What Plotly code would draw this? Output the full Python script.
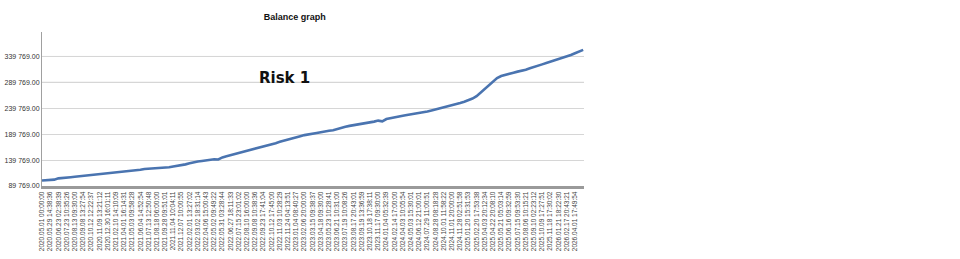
import plotly.graph_objects as go

tick_labels = [
    "2020.05.01 00:00:00", "2020.05.29 14:38:36", "2020.06.23 02:38:39", "2020.07.23 10:35:26",
    "2020.08.13 09:30:00", "2020.09.08 13:27:54", "2020.10.12 12:22:37", "2020.11.09 13:21:12",
    "2020.12.30 16:01:11", "2021.02.10 14:10:09", "2021.04.01 16:14:31", "2021.05.03 09:58:28",
    "2021.06.04 14:52:54", "2021.07.13 12:50:48", "2021.08.18 06:00:00", "2021.09.28 09:51:01",
    "2021.11.04 10:04:11", "2021.12.07 10:00:55", "2022.02.01 13:27:02", "2022.03.02 18:31:14",
    "2022.04.06 15:00:43", "2022.05.02 09:49:22", "2022.05.31 03:28:44", "2022.06.27 18:11:33",
    "2022.07.15 23:01:02", "2022.08.10 16:00:00", "2022.09.08 10:38:36", "2022.09.23 17:41:04",
    "2022.10.12 17:45:00", "2022.11.03 10:28:29", "2022.11.24 04:13:51", "2023.01.04 08:40:27",
    "2023.02.06 20:00:00", "2023.03.15 09:38:37", "2023.04.18 09:30:00", "2023.05.23 10:28:41",
    "2023.06.21 10:31:00", "2023.07.19 10:08:26", "2023.08.17 20:43:01", "2023.09.19 13:36:59",
    "2023.10.18 17:38:11", "2023.11.17 09:30:00", "2024.01.04 05:32:39", "2024.02.14 17:00:00",
    "2024.04.03 10:05:54", "2024.05.03 15:30:01", "2024.06.12 21:00:01", "2024.07.29 11:00:51",
    "2024.08.28 08:18:28", "2024.10.01 11:58:22", "2024.11.01 20:00:00", "2024.11.28 02:51:58",
    "2025.01.20 15:31:53", "2025.02.20 17:53:38", "2025.04.03 20:12:34", "2025.04.22 20:08:10",
    "2025.05.21 05:03:14", "2025.06.16 09:32:59", "2025.07.15 09:53:30", "2025.08.06 10:15:21",
    "2025.09.10 02:23:12", "2025.10.09 17:27:51", "2025.11.18 17:30:02", "2026.01.21 18:22:30",
    "2026.02.17 20:43:21", "2026.04.01 17:49:54",
]

# balance at each labelled point, plus the final point
balance_at_labels = [
    100500, 101000, 104500, 105500, 107500, 109500, 111500, 113500, 114500, 116000,
    117500, 119000, 121000, 123000, 124000, 125000, 127500, 130000, 133500, 137000,
    139000, 141500, 145000, 149000, 153000, 157000, 161000, 165500, 170000, 175000,
    180000, 184500, 188000, 191000, 193500, 196500, 200000, 204000, 207000, 209500,
    212000, 216000, 219000, 222500, 225500, 228000, 230500, 233500, 237500, 241000,
    245000, 250000, 255000, 263000, 278000, 292000, 302000, 306500, 310500, 314000,
    320000, 324500, 329500, 334000, 339500, 346000, 352500,
]

# balance half-way between consecutive labelled points
balance_between = [
    100800, 102000, 104800, 106800, 108300, 110800, 112300, 113800, 115500, 116600,
    118500, 119800, 122500, 123300, 124600, 126000, 128500, 131500, 135800, 138000,
    140500, 141000, 147000, 151000, 155000, 159000, 163000, 167500, 172500, 177500,
    182500, 186000, 189800, 192000, 195500, 197500, 202000, 205800, 208000, 211000,
    214000, 214500, 221000, 224000, 226800, 229000, 232000, 235500, 239000, 243000,
    247500, 252500, 258500, 270000, 285500, 298000, 304500, 308500, 312000, 317000,
    322000, 327000, 331500, 337000, 342500, 349500,
]

y_ticks = [89769, 139769, 189769, 239769, 289769, 339769]
y_tick_text = ["89 769.00", "139 769.00", "189 769.00", "239 769.00", "289 769.00", "339 769.00"]

xs, ys = [], []
for i, v in enumerate(balance_at_labels):
    xs.append(i)
    ys.append(v)
    if i < len(balance_between):
        xs.append(i + 0.5)
        ys.append(balance_between[i])

fig = go.Figure()
fig.add_trace(go.Scatter(
    x=xs, y=ys, mode="lines",
    line=dict(color="#4a74b0", width=2.6),
    hoverinfo="skip", showlegend=False,
))

fig.update_layout(
    width=960, height=259,
    margin=dict(l=42, r=376, t=32, b=73),
    paper_bgcolor="white", plot_bgcolor="white",
    font=dict(family="Liberation Sans, Arial, sans-serif", color="#333333"),
    title=dict(text="<b>Balance graph</b>", x=0.307, xanchor="center", y=0.934, yanchor="middle",
               font=dict(size=9, color="#111111")),
    xaxis=dict(
        range=[0, 66.1], automargin=False,
        tickmode="array", tickvals=list(range(len(tick_labels))), ticktext=tick_labels,
        tickangle=-90, tickfont=dict(size=6.5, color="#444444"),
        showgrid=False, zeroline=False,
        showline=True, linecolor="#9a9a9a", linewidth=3,
        ticks="", ticklen=0,
    ),
    yaxis=dict(
        range=[89769, 387000], automargin=False,
        tickmode="array", tickvals=y_ticks, ticktext=y_tick_text,
        tickfont=dict(size=7, color="#333333"),
        showgrid=True, gridcolor="#d6d6d6", gridwidth=1,
        zeroline=False, showline=True, linecolor="#a0a0a0", linewidth=1,
        ticks="",
    ),
    annotations=[dict(
        text="<b>Risk 1</b>", xref="paper", yref="paper", x=0.448, y=0.70,
        xanchor="center", yanchor="middle", showarrow=False,
        font=dict(family="DejaVu Sans", size=15, color="#111111"),
    )],
    shapes=[
        dict(type="line", xref="paper", x0=0, x1=1, yref="y", y0=v, y1=v,
             line=dict(color="#a8a8a8", width=1), layer="below")
        for v in y_ticks[4:]
    ],
)

fig.write_html("out.html")
